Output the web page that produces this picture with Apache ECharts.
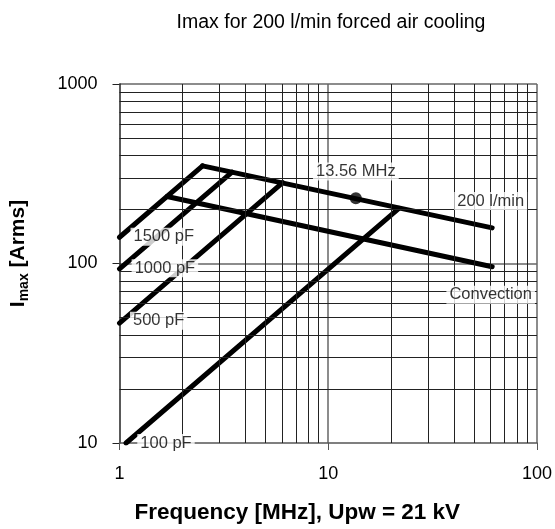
<!DOCTYPE html>
<html>
<head>
<meta charset="utf-8">
<script src="https://cdn.jsdelivr.net/npm/echarts@6/dist/echarts.min.js"></script>
<style>html,body{margin:0;padding:0;background:#fff}#c{width:555px;height:529px}</style>
</head>
<body>
<div id="c"></div>
<script>
// ---- data ----
const titleText = 'Imax for 200 l/min forced air cooling';
const xName = 'Frequency [MHz], Upw = 21 kV';
const cooling200 = [[2.5, 350], [61, 158]];
const convection = [[1.69, 236], [61, 96]];
const cap1500pF = [[1, 140], [2.5, 350]];
const cap1000pF = [[1, 93.3], [3.46, 323]];
const cap500pF = [[1, 46.6], [6.05, 282]];
const cap100pF = [[1.075, 10], [21.8, 203]];
const marker1356 = [[13.56, 231]];
const labelNames = ['13.56 MHz', '200 l/min', 'Convection', '1500 pF', '1000 pF', '500 pF', '100 pF'];
const labelPos = [[13.56, 326], [60, 223], [60, 67], [1.63, 141], [1.65, 94], [1.54, 48], [1.67, 10]];
const xMinorGrid = [2, 3, 4, 5, 6, 7, 8, 9, 20, 30, 40, 50, 60, 70, 80, 90];
const yMinorGrid = [20, 30, 40, 50, 60, 70, 80, 90, 200, 300, 400, 500, 600, 700, 800, 900];

const FONT = 'Liberation Sans, Arial, Helvetica, sans-serif';
const chart = echarts.init(document.getElementById('c'), null, {renderer: 'canvas'});

function curve(name, data) {
  return {
    name, type: 'line', data, z: 4, symbol: 'none', silent: true,
    lineStyle: {color: '#000', width: 5, cap: 'round'}
  };
}

const gridLineData = xMinorGrid.map(v => ({xAxis: v})).concat(yMinorGrid.map(v => ({yAxis: v})));

const option = {
  backgroundColor: '#fff',
  animation: false,
  title: {
    text: titleText, left: 326, top: 8, textAlign: 'center',
    textStyle: {fontFamily: FONT, fontSize: 19.5, fontWeight: 'normal', color: '#000'}
  },
  grid: {left: 115, right: 18, top: 84, bottom: 84, containLabel: false},
  xAxis: {
    type: 'log', logBase: 10, min: 1, max: 100,
    name: xName, nameLocation: 'middle', nameGap: 58,
    nameTextStyle: {fontFamily: FONT, fontSize: 22.5, fontWeight: 'bold', color: '#000', padding: [0, 62, 0, 0]},
    axisLine: {show: true, lineStyle: {color: '#555', width: 1.5}},
    axisTick: {show: true, length: 7, lineStyle: {color: '#555'}},
    axisLabel: {fontFamily: FONT, fontSize: 18, color: '#000', margin: 22, formatter: v => String(v)},
    splitLine: {show: true, showMinLine: false, showMaxLine: true, lineStyle: {color: '#666', width: 1.5}},
    minorTick: {show: false}
  },
  yAxis: {
    type: 'log', logBase: 10, min: 10, max: 1000,
    name: '{b|I}{s|max}{b| [Arms]}', nameLocation: 'middle', nameGap: 88,
    nameTextStyle: {
      padding: [0, 0, 0, 20],
      rich: {
        b: {fontFamily: FONT, fontSize: 21, fontWeight: 'bold', color: '#000'},
        s: {fontFamily: FONT, fontSize: 14, fontWeight: 'bold', color: '#000', padding: [12, 0, 0, 0]}
      }
    },
    axisLine: {show: true, lineStyle: {color: '#222', width: 1.5}},
    axisTick: {show: true, length: 7, lineStyle: {color: '#222'}},
    axisLabel: {fontFamily: FONT, fontSize: 18, color: '#000', margin: 22, formatter: v => String(v)},
    splitLine: {show: true, showMinLine: false, showMaxLine: true, lineStyle: {color: '#666', width: 1.5}},
    minorTick: {show: false}
  },
  series: [
    {
      type: 'line', data: [], z: 1, silent: true, symbol: 'none',
      markLine: {
        silent: true, symbol: ['none', 'none'], label: {show: false},
        lineStyle: {type: 'solid', color: '#222', width: 1},
        emphasis: {disabled: true},
        data: gridLineData
      }
    },
    curve('200 l/min', cooling200),
    curve('Convection', convection),
    curve('1500 pF', cap1500pF),
    curve('1000 pF', cap1000pF),
    curve('500 pF', cap500pF),
    curve('100 pF', cap100pF),
    {
      type: 'scatter', data: marker1356, z: 5, silent: true,
      symbol: 'circle', symbolSize: 12, itemStyle: {color: '#000'}
    },
    {
      type: 'scatter', z: 10, silent: true, symbolSize: 0,
      data: labelNames.map((n, i) => ({name: n, value: labelPos[i]})),
      label: {
        show: true, position: 'inside', formatter: '{b}',
        fontFamily: FONT, fontSize: 16.5, color: '#000', textBorderWidth: 0,
        backgroundColor: '#fff', padding: [1, 3, 0, 3]
      }
    }
  ]
};
chart.setOption(option);
</script>
</body>
</html>
